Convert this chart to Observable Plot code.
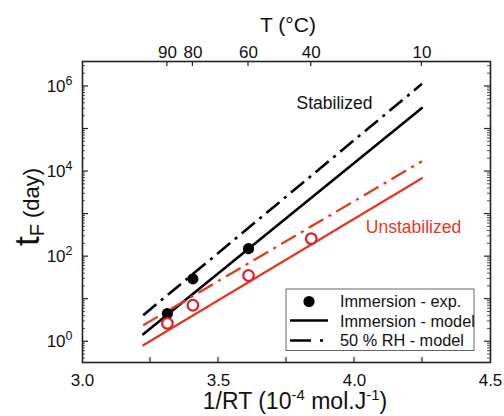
<!DOCTYPE html>
<html><head><meta charset="utf-8">
<script src="https://cdn.jsdelivr.net/npm/d3@7"></script>
<script src="https://cdn.jsdelivr.net/npm/@observablehq/plot@0.6"></script>
<style>
body{margin:0;background:#fff;}
#chart svg{font-family:"Liberation Sans",Arial,sans-serif;}
</style></head><body><div id="chart"></div>
<script>
const R = 8.314;
const invRT = T => 1e4 / (R * (T + 273.15)); // 10^-4 mol/J

// Experimental points (immersion)
const stabTemps = [90, 80, 60];
const stabValues = [4.6, 30, 154];
const unstabTemps = [90, 80, 60, 40];
const unstabValues = [2.7, 7.2, 36, 265];

// Model lines, end temperatures (°C) and t_F values
const modelTemps = [100, 10];
const stabImmersion = [1.5, 3.1e5];
const stab50RH = [4.2, 1.15e6];
const unstabImmersion = [0.83, 7000];
const unstab50RH = [2.44, 17500];

// Axis ticks
const topTicks = [90, 80, 60, 40, 10];
const xTicks = [3.0, 3.5, 4.0, 4.5];
const xInnerTicks = [3.25, 3.5, 3.75, 4.0, 4.25];
const yDecades = [0, 1, 2, 3, 4, 5, 6];
const yLabelDecades = [0, 2, 4, 6];

const W = 504, H = 416;
const mL = 82, mR = 14, mT = 61, mB = 54;

const black = "#000", red = "#e3391f", redDot = "#d9232a";

const rows = (temps, vals) => temps.map((T, i) => ({x: invRT(T), y: vals[i]}));
const yMajor = yDecades.map(d => 10 ** d);
const yMinor = [];
for (let k = -1; k <= 6; k++) for (let m = 2; m <= 9; m++) {
  const v = m * 10 ** k; if (v > 0.325 && v < 3.86e6) yMinor.push(v);
}

const plot = Plot.plot({
  width: W, height: H,
  marginLeft: mL, marginRight: mR, marginTop: mT, marginBottom: mB,
  x: {domain: [3.0, 4.5], axis: null},
  y: {type: "log", domain: [0.325, 3.86e6], axis: null},
  marks: [
    Plot.line(rows(modelTemps, stab50RH), {x: "x", y: "y", stroke: black, strokeWidth: 2.6, strokeDasharray: "17,6,3,6", strokeLinecap: "butt"}),
    Plot.line(rows(modelTemps, stabImmersion), {x: "x", y: "y", stroke: black, strokeWidth: 2.6}),
    Plot.line(rows(modelTemps, unstab50RH), {x: "x", y: "y", stroke: red, strokeWidth: 2.3, strokeDasharray: "17,6,3,6", strokeLinecap: "butt"}),
    Plot.line(rows(modelTemps, unstabImmersion), {x: "x", y: "y", stroke: red, strokeWidth: 2.3}),
    Plot.dot(rows(stabTemps, stabValues), {x: "x", y: "y", r: 5.6, fill: black, stroke: null}),
    Plot.dot(rows(unstabTemps, unstabValues), {x: "x", y: "y", r: 5.3, fill: "white", stroke: redDot, strokeWidth: 2.2}),
    Plot.frame({stroke: "#222", strokeWidth: 1.6}),
    Plot.text(xTicks, {x: d => d, frameAnchor: "bottom", lineAnchor: "top", dy: 11, text: d => d.toFixed(1), fontSize: 17, fill: "#111"}),
    Plot.text(topTicks, {x: invRT, frameAnchor: "top", lineAnchor: "bottom", dy: -4, text: d => String(d), fontSize: 17, fill: "#111"}),
    Plot.text(yLabelDecades, {y: d => 10 ** d, frameAnchor: "left", textAnchor: "end", dx: -10, text: d => "10^" + d, fontSize: 17, fill: "#111"}),
    Plot.text(["Stabilized"], {frameAnchor: "top-right", textAnchor: "middle", lineAnchor: "middle", dx: -156, dy: 42, fontSize: 17.5, fill: "#111"}),
    Plot.text(["Unstabilized"], {frameAnchor: "top-right", textAnchor: "middle", lineAnchor: "middle", dx: -77, dy: 166, fontSize: 17.5, fill: red})
  ]
});

document.getElementById("chart").appendChild(plot);
const svg = d3.select(plot);
const sx = plot.scale("x"), sy = plot.scale("y");
const x0 = mL, x1 = W - mR, y0 = mT, y1 = H - mB;

// inward ticks drawn with the plot's scales
const tg = svg.append("g").attr("stroke", "#222").attr("fill", "none");
xInnerTicks.forEach(v => {
  const px = sx.apply(v);
  tg.append("line").attr("x1", px).attr("x2", px).attr("y1", y1).attr("y2", y1 - 5).attr("stroke-width", 1.2);
});
topTicks.forEach(T => {
  const px = sx.apply(invRT(T));
  tg.append("line").attr("x1", px).attr("x2", px).attr("y1", y0).attr("y2", y0 + 5).attr("stroke-width", 1.2);
});
yMajor.forEach(v => {
  const py = sy.apply(v);
  tg.append("line").attr("x1", x0).attr("x2", x0 + 6).attr("y1", py).attr("y2", py).attr("stroke-width", 1.2);
  tg.append("line").attr("x1", x1).attr("x2", x1 - 6).attr("y1", py).attr("y2", py).attr("stroke-width", 1.2);
});
yMinor.forEach(v => {
  const py = sy.apply(v);
  tg.append("line").attr("x1", x0).attr("x2", x0 + 3).attr("y1", py).attr("y2", py).attr("stroke-width", 0.8);
  tg.append("line").attr("x1", x1).attr("x2", x1 - 3).attr("y1", py).attr("y2", py).attr("stroke-width", 0.8);
});

// superscripts on y labels
svg.selectAll("text").each(function() {
  const m = /^10\^(-?\d+)$/.exec(this.textContent);
  if (!m) return;
  const t = d3.select(this);
  t.text(null);
  t.append("tspan").text("10");
  t.append("tspan").attr("dy", "-7").attr("font-size", "12.5").text(m[1]);
});

// titles
const g = svg.append("g").attr("font-family", '"Liberation Sans",Arial,sans-serif').attr("fill", "#111");
g.append("text").attr("x", 288).attr("y", 32).attr("text-anchor", "middle").attr("font-size", 21).text("T (°C)");

const xt = g.append("text").attr("x", 295).attr("y", 409).attr("text-anchor", "middle").attr("font-size", 23);
xt.append("tspan").text("1/RT (10");
xt.append("tspan").attr("dy", -9).attr("font-size", 15).text("-4");
xt.append("tspan").attr("dy", 9).text(" mol.J");
xt.append("tspan").attr("dy", -9).attr("font-size", 15).text("-1");
xt.append("tspan").attr("dy", 9).text(")");

const yt = g.append("text").attr("transform", "translate(39,207) rotate(-90)").attr("text-anchor", "middle");
yt.append("tspan").attr("font-size", 35).text("t");
yt.append("tspan").attr("font-size", 20).attr("dy", 5).text("F");
yt.append("tspan").attr("font-size", 22).attr("dy", -5).text(" (day)");

// legend
const lg = svg.append("g").attr("transform", "translate(286,289)").attr("font-family", '"Liberation Sans",Arial,sans-serif');
lg.append("rect").attr("width", 188).attr("height", 61.5).attr("fill", "white").attr("stroke", "#666").attr("stroke-width", 1);
lg.append("circle").attr("cx", 23).attr("cy", 12.5).attr("r", 5.6).attr("fill", black);
lg.append("line").attr("x1", 4).attr("x2", 42).attr("y1", 31.5).attr("y2", 31.5).attr("stroke", black).attr("stroke-width", 2.6);
lg.append("line").attr("x1", 4).attr("x2", 42).attr("y1", 51.5).attr("y2", 51.5).attr("stroke", black).attr("stroke-width", 2.6).attr("stroke-dasharray", "21,9,3,20");
const labels = ["Immersion - exp.", "Immersion - model", "50 % RH - model"];
labels.forEach((s, i) => {
  lg.append("text").attr("x", 54).attr("y", 12.5 + i * 19.5).attr("dy", "0.35em").attr("text-anchor", "start").attr("font-size", 16.3).attr("fill", "#111").text(s);
});
</script></body></html>
